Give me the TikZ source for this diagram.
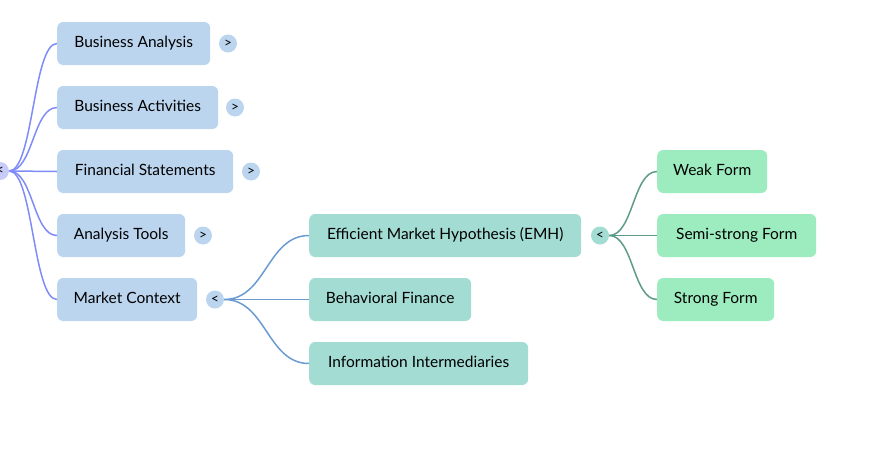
\documentclass[tikz,border=0pt]{standalone}
\usepackage{fontspec}
\setmainfont{Lato}
\usetikzlibrary{positioning}
\definecolor{boxone}{HTML}{BCD5EF}
\definecolor{boxtwo}{HTML}{A3DCD3}
\definecolor{boxthree}{HTML}{9CECBF}
\definecolor{lineone}{HTML}{7F8CF8}
\definecolor{linetwo}{HTML}{6A9BD3}
\definecolor{linethree}{HTML}{5E9C89}
\definecolor{rootbtn}{HTML}{C7CBF7}
\begin{document}
\begin{tikzpicture}[x=1pt,y=-1pt]%
        \useasboundingbox (0,0) rectangle (875,464);%%
        \tikzset{topic/.style={rounded corners=6pt,anchor=west,minimum height=43pt,inner sep=0pt,text height=11pt,text depth=3pt,font=\fontsize{15.5}{18}\selectfont},
                 btn/.style={circle,inner sep=0pt,minimum size=18pt,font=\fontsize{13.5}{14}\selectfont}}
        \node[btn,fill=rootbtn] (root) at (0,171) {<}; %%
        \begin{scope}
        \tikzstyle{every node}=[topic,fill=boxone] %%
        \node[minimum width=153pt] (ba) at (57,43.5)  {Business Analysis}; %%
        \node[minimum width=161pt] (bact) at (57,107.5)  {Business Activities}; %%
        \node[minimum width=176pt] (fs) at (57,171.5)  {Financial Statements}; %%
        \node[minimum width=128pt] (at) at (57,235.5)  {Analysis Tools}; %%
        \node[minimum width=140pt] (mc) at (57,299.5)  {Market Context}; %%
        \end{scope}
        \begin{scope}
        \tikzstyle{every node}=[btn,fill=boxone] %%
        \node (bab) at (228,43.5)  {>}; %%
        \node (bactb) at (235,107.5)  {>}; %%
        \node (fsb) at (251,171.5)  {>}; %%
        \node (atb) at (203,235.5)  {>}; %%
        \node (mcb) at (215,299.5)  {<}; %%
        \end{scope}
        \begin{scope}
        \tikzstyle{every node}=[topic,fill=boxtwo] %%
        \node[minimum width=272pt] (emh) at (309,235.5)  {Efficient Market Hypothesis (EMH)}; %%
        \node[minimum width=162pt] (bf) at (309,299.5)  {Behavioral Finance}; %%
        \node[minimum width=219pt] (ii) at (309,363.5)  {Information Intermediaries}; %%
        \end{scope}
        \node[btn,fill=boxtwo] (emhb) at (600,235.5)  {<}; %%
        \begin{scope}
        \tikzstyle{every node}=[topic,fill=boxthree] %%
        \node[minimum width=110pt] (wf) at (657,171.5)  {Weak Form}; %%
        \node[minimum width=159pt] (ssf) at (657,235.5)  {Semi-strong Form}; %%
        \node[minimum width=117pt] (sf) at (657,299.5)  {Strong Form}; %%
        \end{scope}
        \begin{scope}[line width=1.5pt,lineone]
        \draw (root.east) .. controls +(24,0) and +(-24,0) .. (ba.west); %%
        \draw (root.east) .. controls +(24,0) and +(-24,0) .. (bact.west); %%
        \draw (root.east) -- (fs.west); %%
        \draw (root.east) .. controls +(24,0) and +(-24,0) .. (at.west); %%
        \draw (root.east) .. controls +(24,0) and +(-24,0) .. (mc.west); %%
        \end{scope}
        \begin{scope}[line width=1.5pt,linetwo]
        \draw (mcb.east) .. controls +(42,0) and +(-42,0) .. (emh.west); %%
        \draw (mcb.east) -- (bf.west); %%
        \draw (mcb.east) .. controls +(42,0) and +(-42,0) .. (ii.west); %%
        \end{scope}
        \begin{scope}[line width=1.5pt,linethree]
        \draw (emhb.east) .. controls +(24,0) and +(-24,0) .. (wf.west); %%
        \draw (emhb.east) -- (ssf.west); %%
        \draw (emhb.east) .. controls +(24,0) and +(-24,0) .. (sf.west); %%
        \end{scope}
        \end{tikzpicture}
\end{document}
